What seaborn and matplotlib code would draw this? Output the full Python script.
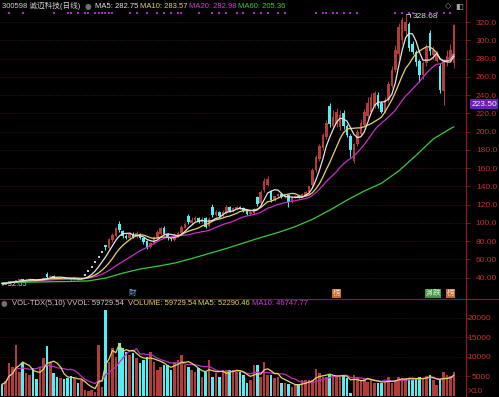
import numpy as np
import pandas as pd
import matplotlib
matplotlib.use("Agg")
import matplotlib.pyplot as plt
import matplotlib.transforms as mtransforms
from matplotlib.lines import Line2D
import seaborn as sns

# ---------------- data ----------------
opens = [34.5, 33.5, 34.5, 35.4, 36.0, 37.0, 38.2, 37.0, 37.8, 38.6,
         37.8, 37.0, 38.4, 44.0, 40.5, 42.0, 40.2, 39.4, 40.2, 39.2,
         38.6, 38.0, 38.8, 38.2, 42.6, 46.9, 51.6, 56.8, 62.5, 68.7,
         75.6, 73, 81, 86, 99, 91, 86, 83, 88, 85,
         88, 83, 80, 74, 78, 84, 88, 95, 88, 83,
         81, 86, 89, 95, 108, 100, 103, 105, 101, 105,
         97, 118, 109, 112, 108, 111, 117, 113, 115, 118,
         116, 113, 110, 111, 128, 122, 136, 142, 134, 125,
         129, 132, 128, 131, 123, 128, 130, 128, 131, 134,
         142, 158, 170, 182, 194, 228, 206, 208, 205, 220,
         206, 195, 168, 186, 198, 207, 217, 222, 228, 240,
         231, 222, 235, 250, 268, 285, 300, 310, 318, 296,
         287, 278, 262, 275, 308, 284, 278, 272, 245, 276,
         280, 275]
closes = [33.5, 34.5, 35.4, 36.2, 37.0, 38.2, 37.0, 37.8, 38.6, 37.8,
          37.0, 38.4, 40.0, 41.0, 42.0, 40.2, 39.4, 40.2, 39.2, 38.6,
          38.0, 38.8, 38.2, 38.7, 42.6, 46.9, 51.6, 56.8, 62.5, 68.7,
          73.5, 82, 87, 94, 92, 86, 84, 88, 85, 89,
          83, 79, 74, 78, 85, 90, 94, 88, 83, 82,
          87, 89, 96, 99, 101, 103, 105, 101, 104, 96,
          104, 109, 112, 108, 112, 117, 113, 116, 118, 116,
          113, 110, 112, 115, 121, 134, 146, 148, 125, 129,
          132, 128, 131, 123, 128, 130, 128, 132, 134, 140,
          158, 172, 184, 196, 210, 208, 216, 222, 218, 206,
          196, 180, 186, 200, 210, 222, 232, 238, 242, 228,
          222, 235, 252, 268, 290, 315, 322, 320, 292, 287,
          276, 262, 275, 292, 288, 290, 285, 246, 278, 283,
          290, 317]
highs = [35.0, 35.0, 35.8, 36.6, 37.6, 38.8, 38.6, 38.2, 39.2, 39.0,
         38.2, 38.8, 40.6, 46.0, 43.0, 42.6, 40.8, 40.6, 40.6, 39.6,
         39.0, 39.2, 39.2, 39.0, 42.6, 46.9, 51.6, 56.8, 62.5, 68.7,
         75.6, 84, 89, 96, 102, 92, 88, 90, 90, 91,
         89, 84, 81, 79, 86, 92, 96, 97, 89, 84,
         88, 91, 98, 101, 110, 106, 108, 107, 106, 106,
         106, 121, 114, 113, 114, 120, 119, 118, 119, 119,
         117, 114, 113, 116, 130, 136, 149, 151, 136, 130,
         133, 133, 132, 132, 129, 131, 131, 133, 135, 141,
         160, 175, 187, 199, 213, 232, 224, 226, 224, 224,
         208, 197, 188, 203, 214, 225, 238, 242, 245, 244,
         234, 238, 256, 272, 295, 319, 326, 328.68, 320, 299,
         290, 280, 278, 296, 312, 294, 288, 275, 280, 290,
         296, 318]
lows = [32.05, 33.2, 34.2, 35.0, 35.8, 36.6, 36.6, 36.6, 37.4, 37.4,
        36.6, 36.8, 38.0, 40.0, 40.0, 39.8, 39.0, 39.0, 38.8, 38.2,
        37.6, 37.6, 37.8, 38.0, 42.6, 46.9, 51.6, 56.8, 62.5, 68.7,
        70.0, 72, 79, 85, 90, 84, 82, 81, 83, 84,
        82, 77, 72, 73, 77, 83, 87, 87, 81, 80,
        80, 85, 88, 94, 99, 99, 102, 100, 100, 94,
        96, 107, 108, 106, 107, 110, 112, 112, 114, 115,
        112, 109, 109, 110, 119, 121, 134, 140, 123, 124,
        128, 127, 127, 117, 122, 127, 127, 127, 130, 133,
        141, 156, 168, 180, 192, 205, 203, 205, 202, 203,
        194, 172, 166, 184, 196, 205, 215, 220, 226, 226,
        220, 220, 233, 248, 265, 280, 296, 305, 288, 285,
        272, 255, 258, 272, 284, 280, 276, 242, 229, 272,
        277, 270]
volumes = [2950, 3800, 8300, 7500, 13000, 6200, 8300, 5800, 5300, 7200,
           4300, 7500, 9600, 12800, 8700, 5800, 4900, 4600, 4300, 4600,
           5200, 4500, 3200, 4000, 1500, 1200, 1500, 1050, 13000, 2300,
           22000, 8700, 12200, 10000, 13500, 12200, 11300,
           10500, 10900, 9600, 8300, 9200, 10000, 11300, 8700, 6600, 7500,
           7900, 7900, 6600, 8700, 9200, 10500, 7900, 7500, 6600, 6200,
           7000, 4900, 6200, 9200, 4900, 5800, 4900, 6600, 6600, 6600,
           6600, 6200, 6200, 5300, 3200,
           4000, 7900, 7800, 4900, 8700, 5300, 5300, 4500, 4700, 3200,
           3200, 3000, 2300, 2700, 3000, 4000, 4000, 4000, 4000, 6900,
           5800, 4900, 4900, 5300, 5400, 4900, 4900, 5400, 4500, 800,
           5300, 4900, 4000, 4500, 3600, 4000, 3400, 3400, 3400, 3600,
           4700, 3400, 4000, 4900, 4500, 4500, 4500, 4000, 4500, 4700,
           4500, 5100, 5300, 4000, 2700, 4000, 6000, 5400, 5100, 6000]
ma60_idx = [0, 5, 10, 15, 20, 25, 30, 35, 40, 45, 50, 55, 60, 65, 70, 75,
            80, 85, 90, 95, 100, 105, 110, 115, 120, 125, 130, 131]
ma60_val = [34.5, 35.0, 35.3, 35.6, 35.9, 36.5, 39.5, 45.0, 49.5, 52.5, 56.0,
            61.0, 66.5, 72.0, 78.0, 84.0, 89.5, 96.0, 104.0, 114.0, 125.0,
            135.0, 143.5, 157.0, 174.0, 192.0, 203.5, 205.36]
signal_idx = [2, 6, 15, 19, 20, 22, 24, 25, 27, 28, 29, 30, 31, 32, 37, 39, 42,
              45, 47, 49, 51, 52, 57, 61, 63, 65, 68, 70, 73, 75, 77, 80, 82,
              91, 93, 94, 96, 97, 99, 101, 103, 114, 116, 118, 119, 124, 126,
              128, 130]
event_idx = [38, 97, 124, 126, 130]
event_text = ["財", "榜", "減", "跌", "榜"]
price_ticks = [320, 300, 280, 260, 240, 220, 200, 180, 160, 140, 120, 100, 80, 60, 40]
price_labels = ["320.0", "300.0", "280.0", "260.0", "240.0", "220.0", "200.0",
                "180.0", "160.0", "140.0", "120.0", "100.0", "80.00", "60.00", "40.00"]
vol_ticks = [20000, 15000, 10000, 5000]
vol_labels = ["20000", "15000", "10000", "5000"]

# ---------------- style ----------------
sns.set_theme(style="dark", rc={"axes.facecolor": "black", "figure.facecolor": "black",
                                "savefig.facecolor": "black"})
plt.rcParams['font.family'] = ['Liberation Sans', 'Noto Sans CJK SC', 'DejaVu Sans']

RED = '#b43c38'
CYAN = '#52eef2'
AXC = '#8a1c1c'
LBL = '#c8302c'
W, H = 499, 397


def fx(x):
    return x / W


def fy(y):
    return 1 - y / H


fig = plt.figure(figsize=(4.99, 3.97), dpi=100, facecolor='black')
ax = fig.add_axes([0, fy(298), 466 / W, (298 - 10) / H])
axv = fig.add_axes([0, 0, 466 / W, (397 - 299) / H])

N = len(closes)
idx = np.arange(N)
df = pd.DataFrame(dict(idx=idx, open=opens, close=closes, high=highs, low=lows, vol=volumes))
flat = (df.high == df.low).to_numpy()
prev = df.close.shift(1).fillna(df.close)
up = ((df.close > df.open) | ((df.close == df.open) & (df.close >= prev))).to_numpy()
colors = np.where(up, RED, CYAN)

# candles
nm = ~flat
o = df.open.to_numpy(); c = df.close.to_numpy(); h = df.high.to_numpy(); l = df.low.to_numpy()
ax.vlines(idx[nm], l[nm], h[nm], colors=colors[nm], lw=0.7, zorder=2)
body_b = np.minimum(o, c)
body_h = np.maximum(np.abs(c - o), 0.8)
ax.bar(idx[nm], body_h[nm], bottom=body_b[nm], width=0.74, color=colors[nm],
       linewidth=0, zorder=3)
ax.hlines(c[flat], idx[flat] - 0.3, idx[flat] + 0.3, colors='#efd6d6', lw=1.3, zorder=3)

# moving averages
ma = pd.DataFrame({'idx': idx,
                   'MA5': df.close.rolling(5, min_periods=1).mean(),
                   'MA10': df.close.rolling(10, min_periods=1).mean(),
                   'MA20': df.close.rolling(20, min_periods=1).mean()})
sns.lineplot(data=ma, x='idx', y='MA20', color='#c830c8', lw=0.9, ax=ax, zorder=4)
sns.lineplot(data=ma, x='idx', y='MA10', color='#e6d46e', lw=0.9, ax=ax, zorder=4)
sns.lineplot(data=ma, x='idx', y='MA5', color='#e4e4e4', lw=0.9, ax=ax, zorder=5)
sns.lineplot(x=ma60_idx, y=ma60_val, color='#3cc83c', lw=0.9, ax=ax, zorder=4)

# top signal dots
ax.scatter(signal_idx, [330.3] * len(signal_idx), s=1.2, marker='s', color='#a82ac8',
           linewidths=0, zorder=5)

ax.set_xlim(-0.58, 134.5)
ax.set_ylim(17.75, 333.4)
ax.set_xticks([])
ax.set_xlabel('')
ax.set_ylabel('')
for s in ['top', 'left', 'bottom']:
    ax.spines[s].set_visible(False)
ax.spines['right'].set_color(AXC)
ax.spines['right'].set_linewidth(0.8)
ax.yaxis.tick_right()
ax.set_yticks(price_ticks)
ax.set_yticklabels(price_labels)
ax.tick_params(axis='y', which='major', right=True, left=False, length=3, width=0.6,
               color=AXC, labelcolor=LBL, labelsize=6, pad=19.4)
for t in ax.get_yticklabels():
    t.set_horizontalalignment('right')
ax.grid(axis='y', color='#4a1414', linestyle=(0, (2, 2)), linewidth=0.5)
ax.grid(axis='x', visible=False)

# annotations in price panel
ax.text(-0.4, 32.05, "←32.05", color='#d8d8d8', fontsize=5.5, va='center', ha='left')
pk = int(np.argmax(h))
ax.plot([pk, pk + 1.3, pk + 1.3], [h[pk], h[pk], h[pk] - 2.5], color='#d8d8d8', lw=0.6)
ax.text(pk + 2.0, h[pk] - 2.5, f"{h[pk]:.2f}", color='#d8d8d8', fontsize=6, va='center', ha='left')
trans = mtransforms.blended_transform_factory(ax.transData, ax.transAxes)
ev_style = {"財": ('#7fa6ee', None), "榜": ('#f2dcc8', '#c86a2a'),
            "減": ('#e8f4e0', '#3f9a3f'), "跌": ('#e8f4e0', '#3f9a3f')}
for xi, tx in zip(event_idx, event_text):
    fc, bc = ev_style[tx]
    kw = {}
    if bc is not None:
        kw['bbox'] = dict(boxstyle='square,pad=0.12', facecolor=bc, edgecolor='none')
    ax.text(xi, 0.017, tx, transform=trans, color=fc, fontsize=5.5, ha='center',
            va='center', **kw)

# ---------------- volume ----------------
vdf = pd.DataFrame({'idx': idx, 'vol': volumes, 'dir': np.where(up, 'up', 'down')})
sns.barplot(data=vdf, x='idx', y='vol', hue='dir', palette={'up': RED, 'down': CYAN},
            native_scale=True, dodge=False, width=0.74, saturation=1, errorbar=None,
            legend=False, ax=axv, linewidth=0)
vma = pd.DataFrame({'idx': idx,
                    'MA5': vdf.vol.rolling(5, min_periods=1).mean(),
                    'MA10': vdf.vol.rolling(10, min_periods=1).mean()})
sns.lineplot(data=vma, x='idx', y='MA10', color='#c030c0', lw=0.9, ax=axv, zorder=4)
sns.lineplot(data=vma, x='idx', y='MA5', color='#e2d66a', lw=0.9, ax=axv, zorder=5)
axv.set_xlim(-0.58, 134.5)
axv.set_ylim(-308, 24820)
axv.set_xticks([])
axv.set_xlabel('')
axv.set_ylabel('')
for s in ['top', 'left', 'bottom']:
    axv.spines[s].set_visible(False)
axv.spines['right'].set_color(AXC)
axv.spines['right'].set_linewidth(0.8)
axv.yaxis.tick_right()
axv.set_yticks(vol_ticks)
axv.set_yticklabels(vol_labels)
axv.tick_params(axis='y', which='major', right=True, left=False, length=3, width=0.6,
                color=AXC, labelcolor=LBL, labelsize=6, pad=15.1)
for t in axv.get_yticklabels():
    t.set_horizontalalignment('right')
axv.grid(axis='y', color='#3a1010', linestyle=(0, (2, 2)), linewidth=0.5)
axv.grid(axis='x', visible=False)
axv.text(1.003, 1050, "X10", transform=mtransforms.blended_transform_factory(axv.transAxes, axv.transData),
         color=LBL, fontsize=6, ha='left', va='center')

# ---------------- frame lines ----------------
fig.add_artist(Line2D([0, 1], [fy(299), fy(299)], color=AXC, lw=0.8, transform=fig.transFigure))
fig.add_artist(Line2D([fx(466), fx(466)], [0, 1], color=AXC, lw=0.8, transform=fig.transFigure))

# ---------------- header texts ----------------
hs = 5.5
fig.text(fx(2), fy(6), "300598 诚迈科技(日线)", color='#cfcfcf', fontsize=hs, va='center')
fig.text(fx(88), fy(6), "●", color='#707070', fontsize=5.5, va='center', ha='center',
         family=['DejaVu Sans'])
fig.text(fx(95), fy(6), "MA5: 282.75", color='#e4e4e4', fontsize=hs, va='center')
fig.text(fx(140), fy(6), "MA10: 283.57", color='#e6d46e', fontsize=hs, va='center')
fig.text(fx(189), fy(6), "MA20: 282.98", color='#d63cd6', fontsize=hs, va='center')
fig.text(fx(238), fy(6), "MA60: 205.36", color='#3cc83c', fontsize=hs, va='center')
fig.text(fx(448), fy(6), "◇", color='#a0a0a0', fontsize=6, va='center', ha='center',
         family=['DejaVu Sans'])
fig.text(fx(459), fy(6), "◧", color='#a0a0a0', fontsize=6, va='center', ha='center',
         family=['DejaVu Sans'])

fig.text(fx(4), fy(303.5), "●", color='#707070', fontsize=5.5, va='center', ha='center',
         family=['DejaVu Sans'])
fig.text(fx(12), fy(303.5), "VOL-TDX(5,10) VVOL: 59729.54", color='#cfcfcf', fontsize=hs, va='center')
fig.text(fx(128), fy(303.5), "VOLUME: 59729.54", color='#e2d66a', fontsize=hs, va='center')
fig.text(fx(198), fy(303.5), "MA5: 52290.46", color='#e2d66a', fontsize=hs, va='center')
fig.text(fx(252), fy(303.5), "MA10: 46747.77", color='#d63cd6', fontsize=hs, va='center')

# current price box
fig.text(fx(497), fy(104), "223.50", color='#f0f0f0', fontsize=6, va='center', ha='right',
         bbox=dict(boxstyle='square,pad=0.15', facecolor='#6a1fb4', edgecolor='none'))

fig.savefig("out.png", dpi=100, facecolor='black')
